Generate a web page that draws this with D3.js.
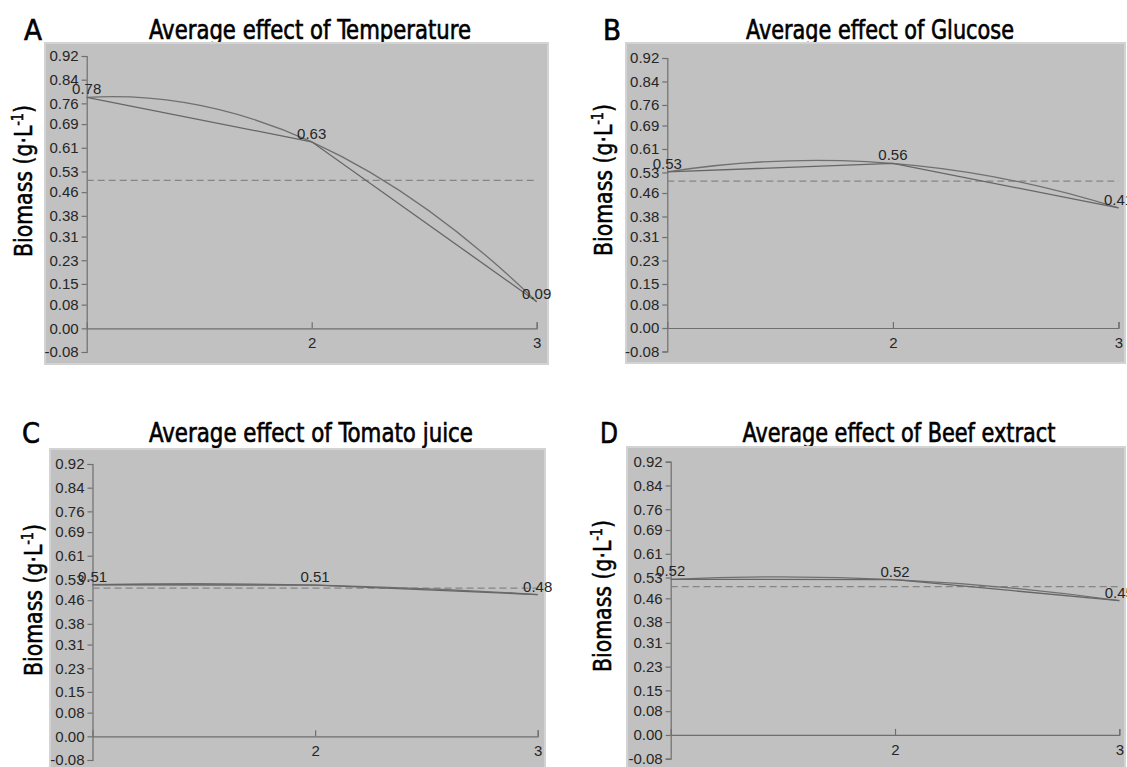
<!DOCTYPE html>
<html>
<head>
<meta charset="utf-8">
<script src="https://cdn.jsdelivr.net/npm/d3@7"></script>
<style>
  body { margin: 0; background: #fff; }
  svg { display: block; }
</style>
</head>
<body>
<div id="chart"></div>
<script>
// data
var letters = ["A", "B", "C", "D"];
var factors = ["Temperature", "Glucose", "Tomato juice", "Beef extract"];
var levels = [1, 2, 3];
var temperature = [0.78, 0.63, 0.09];
var glucose = [0.532, 0.561, 0.409];
var tomatoJuice = [0.512, 0.511, 0.479];
var beefExtract = [0.524, 0.523, 0.452];
var yTickLabels = ["0.92", "0.84", "0.76", "0.69", "0.61", "0.53", "0.46", "0.38", "0.31", "0.23", "0.15", "0.08", "0.00", "-0.08"];
var xTickValues = [2, 3];

var series = [temperature, glucose, tomatoJuice, beefExtract];

function init() {
    var w = 1127;
    var h = 767;

    // panel layout: gray frame, plot extents, title and label anchors
    var layout = [
        { box: [45, 43, 548, 364], x: [86.7, 536.7], y: [56, 352], title: [310, 39, 322], letter: [24, 40], ylab: [24, 181] },
        { box: [626, 43, 1125, 363], x: [667.3, 1118.5], y: [58, 351.5], title: [880, 39, 268], letter: [603, 40], ylab: [604, 180] },
        { box: [50, 449, 545, 775], x: [92.5, 537.7], y: [464, 760], title: [311, 442, 324], letter: [22, 443], ylab: [34, 600] },
        { box: [627, 447, 1125, 775], x: [670.7, 1119.3], y: [461.7, 758.7], title: [899, 442, 313], letter: [600, 443], ylab: [603, 596] }
    ];

    var svg = d3.select("#chart")
        .append("svg")
        .attr("width", w)
        .attr("height", h);

    var fmt = d3.format(".2f");
    var titleFont = "'DejaVu Sans Condensed', 'Liberation Sans Narrow', sans-serif";
    var tickFont = "'Liberation Sans', Arial, sans-serif";

    series.forEach(function(values, i) {
        var L = layout[i];
        var g = svg.append("g").attr("class", "panel");

        g.append("text")
            .attr("x", L.title[0])
            .attr("y", L.title[1])
            .attr("text-anchor", "middle")
            .attr("textLength", L.title[2])
            .attr("lengthAdjust", "spacingAndGlyphs")
            .style("font-family", titleFont)
            .style("font-size", "26px")
            .attr("fill", "#000")
            .attr("stroke", "#000")
            .attr("stroke-width", 0.6)
            .text("Average effect of " + factors[i]);

        g.append("text")
            .attr("x", L.letter[0])
            .attr("y", L.letter[1])
            .attr("textLength", 18)
            .attr("lengthAdjust", "spacingAndGlyphs")
            .style("font-family", titleFont)
            .style("font-size", "28px")
            .attr("fill", "#000")
            .attr("stroke", "#000")
            .attr("stroke-width", 0.6)
            .text(letters[i]);

        g.append("rect")
            .attr("x", L.box[0])
            .attr("y", L.box[1])
            .attr("width", L.box[2] - L.box[0])
            .attr("height", L.box[3] - L.box[1])
            .attr("fill", "#c1c1c1")
            .attr("stroke", "#d3d3d3")
            .attr("stroke-width", 2);

        var ylab = g.append("text")
            .attr("transform", "translate(" + (L.ylab[0] + 8) + "," + L.ylab[1] + ") rotate(-90)")
            .attr("text-anchor", "middle")
            .attr("textLength", 152)
            .attr("lengthAdjust", "spacingAndGlyphs")
            .style("font-family", titleFont)
            .style("font-size", "24px")
            .attr("fill", "#000")
            .attr("stroke", "#000")
            .attr("stroke-width", 0.5);
        ylab.append("tspan").text("Biomass (g\u00b7L");
        ylab.append("tspan").attr("baseline-shift", "super").style("font-size", "15px").text("-1");
        ylab.append("tspan").text(")");

        var xScale = d3.scaleLinear().domain([1, 3]).range(L.x);
        var yScale = d3.scaleLinear().domain([0.92, -0.08]).range(L.y);

        var yAxis = d3.axisLeft(yScale)
            .tickValues(yTickLabels.map(Number))
            .tickFormat(function(d, k) { return yTickLabels[k]; })
            .tickSize(5)
            .tickPadding(3);
        var gy = g.append("g")
            .attr("class", "y axis")
            .attr("transform", "translate(" + L.x[0] + ",0)")
            .call(yAxis);

        var xAxis = d3.axisBottom(xScale)
            .tickValues(xTickValues)
            .tickFormat(d3.format("d"))
            .tickSize(-6)
            .tickPadding(9);
        var gx = g.append("g")
            .attr("class", "x axis")
            .attr("transform", "translate(0," + yScale(0) + ")")
            .call(xAxis);

        [gx, gy].forEach(function(a) {
            a.attr("font-family", tickFont).attr("font-size", 15);
            a.selectAll("text").attr("fill", "#262626");
            a.selectAll("path, line").attr("stroke", "#6f6f6f").attr("stroke-width", 1.2);
        });

        // grand mean reference line
        var mean = d3.mean(values);
        g.append("line")
            .attr("x1", xScale(1))
            .attr("x2", xScale(3))
            .attr("y1", yScale(mean))
            .attr("y2", yScale(mean))
            .attr("stroke", "#858585")
            .attr("stroke-width", 1.2)
            .attr("stroke-dasharray", "7,4");

        var pts = levels.map(function(l, k) { return [xScale(l), yScale(values[k])]; });

        // quadratic trend through the three level means
        var c = [2 * pts[1][0] - (pts[0][0] + pts[2][0]) / 2, 2 * pts[1][1] - (pts[0][1] + pts[2][1]) / 2];
        var p = d3.path();
        p.moveTo(pts[0][0], pts[0][1]);
        p.quadraticCurveTo(c[0], c[1], pts[2][0], pts[2][1]);
        g.append("path")
            .attr("d", p.toString())
            .attr("fill", "none")
            .attr("stroke", "#707070")
            .attr("stroke-width", 1.3);

        var line = d3.line()
            .x(function(d) { return xScale(d); })
            .y(function(d, k) { return yScale(values[k]); });
        g.append("path")
            .datum(levels)
            .attr("d", line)
            .attr("fill", "none")
            .attr("stroke", "#666")
            .attr("stroke-width", 1.3);

        g.selectAll(".val")
            .data(levels)
            .enter()
            .append("text")
            .attr("class", "val")
            .attr("x", function(d) { return xScale(d); })
            .attr("y", function(d, k) { return yScale(values[k]) - 3; })
            .attr("text-anchor", "middle")
            .style("font-family", tickFont)
            .style("font-size", "15px")
            .attr("fill", "#262626")
            .text(function(d, k) { return fmt(values[k]); });
    });
}

window.onload = init;
</script>
</body>
</html>
